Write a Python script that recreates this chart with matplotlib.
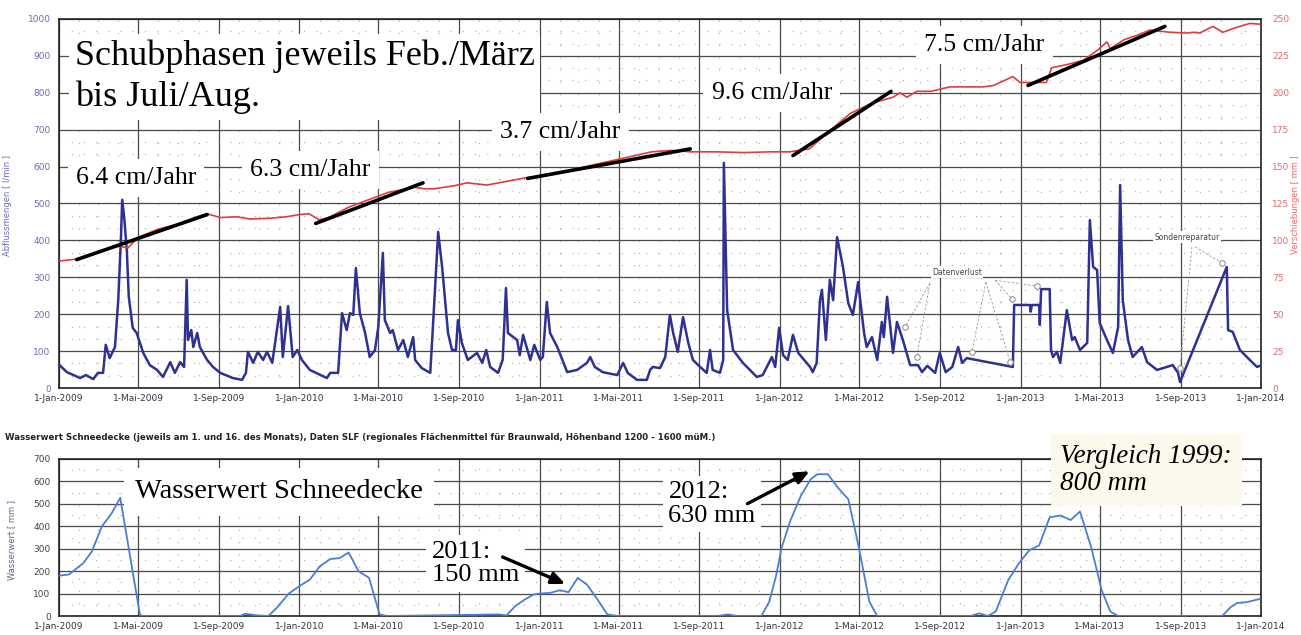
import numpy as np
import matplotlib
matplotlib.use('Agg')
import matplotlib.pyplot as plt
import matplotlib.dates as mdates
from matplotlib.ticker import MultipleLocator, FuncFormatter

# Tage seit 1-Jan-2009
START = np.datetime64('2009-01-01')

# Abflussmengen [l/min]
abfluss_tage = [2, 12, 32, 41, 52, 59, 67, 71, 77, 85, 90, 94, 96, 99, 103, 106, 112, 118, 128, 138, 149, 158,
                169, 176, 184, 190, 194, 196, 201, 204, 210, 214, 225, 234, 245, 264, 278, 284, 287, 295, 302,
                310, 316, 324, 336, 340, 348, 355, 362, 369, 381, 407, 412, 424, 430, 437, 442, 447, 451, 457,
                465, 472, 480, 485, 492, 495, 503, 507, 515, 523, 530, 538, 541, 551, 564, 568, 576, 582, 591,
                597, 603, 606, 612, 621, 635, 643, 649, 655, 667, 674, 679, 682, 696, 700, 705, 716, 722, 731,
                735, 741, 746, 757, 772, 787, 802, 807, 814, 826, 848, 857, 864, 878, 893, 898, 902, 913, 921,
                928, 933, 940, 948, 956, 963, 974, 984, 989, 993, 1004, 1009, 1010, 1015, 1024, 1039, 1060,
                1069, 1083, 1088, 1094, 1100, 1107, 1115, 1123, 1141, 1145, 1151, 1156, 1159, 1165, 1171, 1176,
                1182, 1191, 1199, 1206, 1214, 1223, 1227, 1235, 1243, 1250, 1253, 1258, 1267, 1273, 1282, 1293,
                1305, 1311, 1319, 1331, 1338, 1347, 1357, 1366, 1372, 1379, 1449, 1451, 1475, 1476, 1478, 1489,
                1490, 1492, 1505, 1507, 1510, 1516, 1521, 1531, 1539, 1543, 1551, 1562, 1566, 1571, 1577, 1581,
                1592, 1601, 1609, 1612, 1616, 1624, 1631, 1645, 1653, 1668, 1683, 1692, 1700, 1703, 1774, 1776,
                1783, 1794, 1809, 1820, 1824]
abfluss = [60, 43, 27, 35, 24, 41, 41, 117, 81, 111, 238, 401, 510, 463, 374, 247, 163, 149, 95, 62, 49, 30,
           70, 41, 70, 57, 293, 130, 157, 111, 149, 111, 76, 57, 41, 27, 22, 41, 98, 68, 98,
           76, 98, 68, 220, 84, 222, 84, 103, 76, 49, 27, 41, 41, 203, 157, 203, 198, 325, 203,
           149, 84, 103, 165, 366, 184, 149, 157, 103, 130, 84, 138, 76, 54, 41, 165, 423, 328, 149,
           103, 103, 184, 122, 76, 95, 68, 103, 57, 41, 76, 271, 149, 130, 89, 144, 76, 117, 76,
           84, 233, 149, 111, 43, 49, 68, 84, 57, 43, 35, 68, 41, 22, 22, 49, 57, 54, 84,
           198, 149, 98, 192, 122, 76, 57, 41, 103, 49, 41, 76, 610, 211, 103, 68, 30,
           35, 84, 57, 163, 89, 76, 144, 95, 57, 43, 68, 238, 266, 130, 293, 238,
           409, 328, 230, 198, 287, 149, 111, 138, 76, 179, 138, 247, 95, 179, 130, 62,
           62, 43, 60, 41, 95, 43, 57, 111, 68, 81, 57, 225, 225, 207, 225, 225,
           171, 268, 268, 103, 84, 98, 68, 211, 130, 138, 103, 122, 455, 328, 320, 176,
           130, 95, 165, 550, 238, 130, 84, 111, 70, 49, 57, 62, 41, 16, 328, 157,
           152, 103, 76, 57, 60]

# Verschiebungen [mm]
verschiebung_tage = [0, 30, 60, 90, 105, 120, 150, 180, 210, 225, 245, 270, 290, 320, 345, 365, 380, 395, 410,
                     440, 470, 500, 540, 555, 570, 600, 620, 650, 680, 710, 730, 760, 800, 850, 900, 930, 960,
                     1000, 1040, 1080, 1110, 1140, 1170, 1202, 1235, 1267, 1278, 1288, 1303, 1325, 1353, 1380,
                     1404, 1420, 1449, 1460, 1475, 1500, 1508, 1530, 1556, 1578, 1592, 1597, 1618, 1638, 1657,
                     1688, 1714, 1723, 1733, 1753, 1768, 1790, 1809, 1824]
verschiebung = [86, 87.5, 92.5, 96, 95, 102, 107.5, 111, 116, 118, 115.5, 116, 114.5, 115, 116, 117.5, 118, 114,
                115.5, 122.5, 127.5, 132.5, 136, 135, 135, 137, 139, 137.5, 140, 142.5, 143, 146, 150, 155,
                160, 161, 160, 160, 159.5, 160, 160, 162, 174, 186, 193, 197, 200, 197, 201, 201, 204, 204,
                204, 205, 211, 207, 207, 207, 217, 219, 222, 229, 234.5, 230, 236, 239, 242.5, 241, 240.5,
                241, 240.5, 245, 241, 244.5, 247, 246.5]

# Schubphasen (Trendlinien) [Tag start, Tag ende], [mm start, mm ende]
trend_tage = [(27, 225), (390, 553), (712, 959), (1115, 1264), (1472, 1680)]
trend_mm = [(87, 117.5), (111.5, 139), (142, 162), (157.5, 201), (205, 245)]
trend_labels = ['6.4 cm/Jahr', '6.3 cm/Jahr', '3.7 cm/Jahr', '9.6 cm/Jahr', '7.5 cm/Jahr']

# Wasserwert Schneedecke [mm]
schnee_tage = [0, 15, 37, 50, 65, 80, 93, 123, 128, 275, 283, 300, 318, 331, 349, 365, 381, 396, 412, 426, 440,
               455, 471, 487, 499, 668, 680, 693, 708, 721, 730, 746, 761, 774, 788, 802, 818, 833, 849,
               1000, 1016, 1030, 1067, 1079, 1089, 1098, 1111, 1127, 1142, 1152, 1168, 1183, 1199, 1215,
               1231, 1243, 1385, 1398, 1411, 1423, 1442, 1458, 1474, 1489, 1505, 1521, 1537, 1551, 1568,
               1584, 1597, 1609, 1767, 1780, 1790, 1805, 1824]
schnee = [180, 185, 236, 288, 399, 458, 527, 5, 0, 0, 10, 3, 0, 37, 100, 133, 162, 221, 254, 258, 283,
          200, 170, 7, 0, 7, 3, 44, 74, 96, 100, 103, 115, 106, 170, 140, 74, 7, 0,
          0, 7, 0, 0, 64, 175, 307, 425, 536, 610, 632, 632, 573, 521, 307,
          64, 0, 0, 12, 0, 20, 160, 234, 293, 315, 440, 448, 428, 466, 307,
          115, 20, 0, 0, 40, 58, 62, 76]

MONATE = {1: 'Jan', 5: 'Mai', 9: 'Sep'}
BLAU = '#2e3192'
ROT = '#e03c3c'


def d(tage):
    return START + np.array(tage, dtype='timedelta64[D]')


def datum_fmt(x, pos):
    t = mdates.num2date(x)
    return f'1-{MONATE.get(t.month, t.month)}-{t.year}'


def gitter(ax, major, minor):
    ax.set_axisbelow(True)
    ax.set_xlim(d(0), d(1826))
    ax.xaxis.set_major_locator(mdates.MonthLocator(bymonth=[1, 5, 9]))
    ax.xaxis.set_minor_locator(mdates.MonthLocator())
    ax.xaxis.set_major_formatter(FuncFormatter(datum_fmt))
    ax.yaxis.set_major_locator(MultipleLocator(major))
    ax.yaxis.set_minor_locator(MultipleLocator(minor))
    ax.grid(which='major', color='#4a4a4a', lw=0.9)
    ax.grid(which='minor', color='#ababab', lw=0.8, ls=(0, (1, 10)))
    ax.tick_params(which='both', length=0, labelsize=6.5)
    ax.tick_params(axis='x', pad=4, colors='#333344')
    for s in ax.spines.values():
        s.set_color('#222222')
        s.set_linewidth(1.2)


fig = plt.figure(figsize=(13.01, 6.35), dpi=100)
W, H = 1301, 635
serif = 'Liberation Serif'

# ---------- oben: Abfluss + Verschiebung ----------
ax1 = fig.add_axes([59 / W, 247 / H, 1202 / W, 369 / H])
gitter(ax1, 100, 100 / 3)
ax1.set_ylim(0, 1000)
ax1.tick_params(axis='y', colors='#6b6bb8', pad=6)
ax1.plot(d(abfluss_tage), abfluss, color=BLAU, lw=1.8, zorder=3)

ax2 = ax1.twinx()
ax2.set_ylim(0, 250)
ax2.yaxis.set_major_locator(MultipleLocator(25))
ax2.tick_params(length=0, labelsize=6.5, colors='#e86a6a', pad=8)
ax2.plot(d(verschiebung_tage), verschiebung, color=ROT, lw=1.2, zorder=3)
for t, v in zip(trend_tage, trend_mm):
    ax2.plot(d(t), v, color='black', lw=2.6, solid_capstyle='round', zorder=4)
for s in ax2.spines.values():
    s.set_visible(False)

box = dict(facecolor='white', edgecolor='none', pad=4)
ax1.text(0.013, 0.945, 'Schubphasen jeweils Feb./März\nbis Juli/Aug.', transform=ax1.transAxes,
         family=serif, fontsize=26, va='top', ha='left', linespacing=1.32, bbox=box, zorder=1.5)
label_pos = [(0.014, 0.569), (0.159, 0.591), (0.367, 0.694), (0.543, 0.799), (0.720, 0.930)]
for (x, y), lab in zip(label_pos, trend_labels):
    ax1.text(x, y, lab, transform=ax1.transAxes, family=serif, fontsize=18.5, va='center', ha='left',
             bbox=dict(facecolor='white', edgecolor='none', pad=6), zorder=1.5)

# Datenverlust / Sondenreparatur Hinweise
hinweise = [
    ('Datenverlust', (1364, 314), [((1323, 284), (1285, 165)), ((1323, 284), (1303, 84)),
                                   ((1408, 287), (1387, 98)), ((1408, 287), (1445, 70)),
                                   ((1422, 292), (1448, 241)), ((1422, 292), (1486, 276))]),
    ('Sondenreparatur', (1714, 409), [((1721, 382), (1703, 54)), ((1726, 382), (1767, 339))]),
]
for txt, (tx, ty), linien in hinweise:
    ax1.text(d(tx), ty, txt, fontsize=5.5, color='#444444', ha='center', va='center',
             bbox=dict(facecolor='white', edgecolor='none', pad=1), zorder=4)
    for (x0, y0), (x1, y1) in linien:
        ax1.plot(d([x0, x1]), [y0, y1], color='#9a9a9a', lw=0.6, ls=(0, (3, 2)), zorder=4)
        ax1.plot(d([x1]), [y1], 'o', ms=4, mfc='white', mec='#888888', mew=0.7, zorder=5)

fig.text(8 / W, (H - 205) / H, 'Abflussmengen [ l/min ]', rotation=90, va='center', ha='center',
         fontsize=6, color='#6b6bb8')
fig.text(1296 / W, (H - 205) / H, 'Verschiebungen [ mm ]', rotation=90, va='center', ha='center',
         fontsize=6, color='#e86a6a')

# ---------- unten: Wasserwert Schneedecke ----------
fig.text(5 / W, (H - 437) / H,
         'Wasserwert Schneedecke (jeweils am 1. und 16. des Monats), Daten SLF (regionales Flächenmittel '
         'für Braunwald, Höhenband 1200 - 1600 müM.)', fontsize=6.2, fontweight='bold', color='#222222',
         va='center', ha='left')

ax3 = fig.add_axes([59 / W, 19 / H, 1202 / W, 157 / H])
gitter(ax3, 100, 50)
ax3.set_ylim(0, 700)
ax3.tick_params(axis='y', colors='#444444', pad=6)
ax3.plot(d(schnee_tage), schnee, color='#4a7ed4', lw=1.3, zorder=3)
fig.text(12 / W, (H - 540) / H, 'Wasserwert [ mm ]', rotation=90, va='center', ha='center',
         fontsize=6, color='#666688')

ax3.text(0.063, 0.79, 'Wasserwert Schneedecke', transform=ax3.transAxes, family=serif, fontsize=20.5,
         va='center', ha='left', bbox=dict(facecolor='white', edgecolor='none', pad=8), zorder=1.5)
ax3.text(0.310, 0.335, '2011:\n150 mm', transform=ax3.transAxes, family=serif, fontsize=19, va='center',
         ha='left', linespacing=1.1, bbox=dict(facecolor='white', edgecolor='none', pad=4), zorder=1.5)
ax3.text(0.507, 0.713, '2012:\n630 mm', transform=ax3.transAxes, family=serif, fontsize=19, va='center',
         ha='left', linespacing=1.1, bbox=dict(facecolor='white', edgecolor='none', pad=4), zorder=1.5)
ax3.text(0.833, 0.93, 'Vergleich 1999:\n800 mm', transform=ax3.transAxes, family=serif, style='italic',
         fontsize=19.5, va='center', ha='left', linespacing=1.1, clip_on=False,
         bbox=dict(facecolor='#fbf9ec', edgecolor='none', pad=7), zorder=5)

pfeil = dict(arrowstyle='-|>,head_length=0.8,head_width=0.35', color='black', lw=2.4)
ax3.annotate('', xy=(d(773), 138), xytext=(d(670), 268), arrowprops=pfeil, zorder=6)
ax3.annotate('', xy=(d(1144), 651), xytext=(d(1042), 495), arrowprops=pfeil, zorder=6)

fig.savefig('out.png', dpi=100)
